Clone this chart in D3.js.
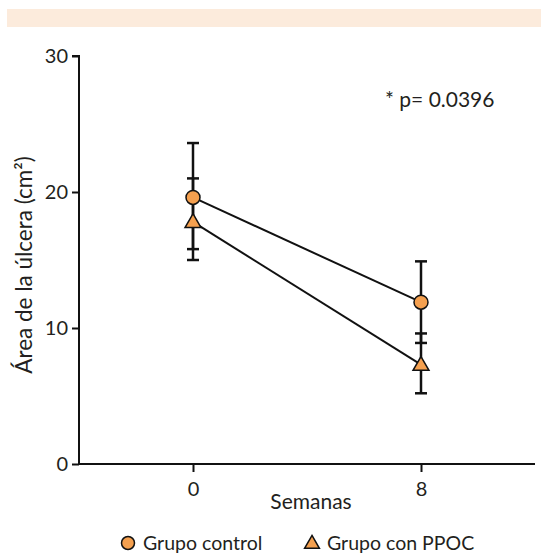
<!DOCTYPE html>
<html><head><meta charset="utf-8">
<script src="https://cdn.jsdelivr.net/npm/d3@7"></script>
<style>body{margin:0;background:#fff}svg{display:block}text{font-family:Lato,"Open Sans",sans-serif;fill:#231f20}</style>
</head><body>
<script>
const weeks = [0, 8];
const controlMean = [19.6, 11.9];
const controlErrLow = [15.8, 8.9];
const controlErrHigh = [23.6, 14.9];
const ppocMean = [17.8, 7.3];
const ppocErrLow = [15.0, 5.2];
const ppocErrHigh = [21.0, 9.6];
const yTicks = [0, 10, 20, 30];
const xTickLabels = ["0", "8"];
const seriesNames = ["Grupo control", "Grupo con PPOC"];
const orange = "#f5a04f";

const W = 541, H = 556;
const svg = d3.select("body").append("svg").attr("width", W).attr("height", H);
svg.append("rect").attr("x", 7).attr("y", 9).attr("width", W - 7).attr("height", 18).attr("fill", "#fcebdc");

const x = d3.scaleLinear().domain([-4, 12]).range([79, 535]);
const y = d3.scaleLinear().domain([0, 30]).range([464, 56]);

const yAxis = svg.append("g").attr("transform", "translate(79,0)")
  .call(d3.axisLeft(y).tickValues(yTicks).tickSize(7).tickPadding(4));
const xAxis = svg.append("g").attr("transform", "translate(0,464)")
  .call(d3.axisBottom(x).tickValues(weeks).tickFormat((d, i) => xTickLabels[i]).tickSize(8).tickPadding(10));
[yAxis, xAxis].forEach(g => {
  g.select(".domain").attr("stroke", "#111").attr("stroke-width", 2);
  g.selectAll(".tick line").attr("stroke", "#111").attr("stroke-width", 2);
  g.selectAll(".tick text").style("font-size", "20px").style("font-family", "Lato, sans-serif").attr("fill", "#231f20");
});
yAxis.select(".domain").attr("d", `M-7,${y(30)}H0V${y(0)}`);
xAxis.select(".domain").attr("d", `M${x(-4)},0H${x(12)}`);

svg.append("text").attr("transform", `translate(32,${(y(0)+y(30))/2 + 5}) rotate(-90)`)
  .attr("text-anchor", "middle").style("font-size", "22.5px").text("Área de la úlcera (cm²)");
svg.append("text").attr("x", 311).attr("y", 509).attr("text-anchor", "middle").style("font-size", "21px").text("Semanas");
svg.append("text").attr("x", 385).attr("y", 107).style("font-size", "21px").text("* p= 0.0396");

const series = [
  {mean: controlMean, lo: controlErrLow, hi: controlErrHigh, shape: "circle"},
  {mean: ppocMean, lo: ppocErrLow, hi: ppocErrHigh, shape: "triangle"}
];
// error bars
series.forEach(s => {
  weeks.forEach((w, i) => {
    const g = svg.append("g").attr("stroke", "#111").attr("stroke-width", 2.5);
    g.append("line").attr("x1", x(w)).attr("x2", x(w)).attr("y1", y(s.lo[i])).attr("y2", y(s.hi[i]));
    [s.lo[i], s.hi[i]].forEach(v => g.append("line").attr("x1", x(w) - 6).attr("x2", x(w) + 6).attr("y1", y(v)).attr("y2", y(v)));
  });
});
// lines
const line = d3.line().x((d, i) => x(weeks[i])).y(d => y(d));
series.forEach(s => svg.append("path").attr("d", line(s.mean)).attr("fill", "none").attr("stroke", "#111").attr("stroke-width", 2));
// markers
const tri = d3.symbol().type(d3.symbolTriangle).size(110);
series.forEach(s => {
  weeks.forEach((w, i) => {
    if (s.shape === "circle") svg.append("circle").attr("cx", x(w)).attr("cy", y(s.mean[i])).attr("r", 7).attr("fill", orange).attr("stroke", "#111").attr("stroke-width", 1.5);
    else svg.append("path").attr("d", tri()).attr("transform", `translate(${x(w)},${y(s.mean[i]) + 1})`).attr("fill", orange).attr("stroke", "#111").attr("stroke-width", 1.5);
  });
});
// legend
const lg = svg.append("g");
lg.append("circle").attr("cx", 128).attr("cy", 543).attr("r", 6.5).attr("fill", orange).attr("stroke", "#111").attr("stroke-width", 1.5);
lg.append("text").attr("x", 143).attr("y", 550).style("font-size", "19.5px").text(seriesNames[0]);
lg.append("path").attr("d", d3.symbol().type(d3.symbolTriangle).size(95)()).attr("transform", "translate(312,544)").attr("fill", orange).attr("stroke", "#111").attr("stroke-width", 1.5);
lg.append("text").attr("x", 327).attr("y", 550).style("font-size", "19.5px").text(seriesNames[1]);
</script>
</body></html>
